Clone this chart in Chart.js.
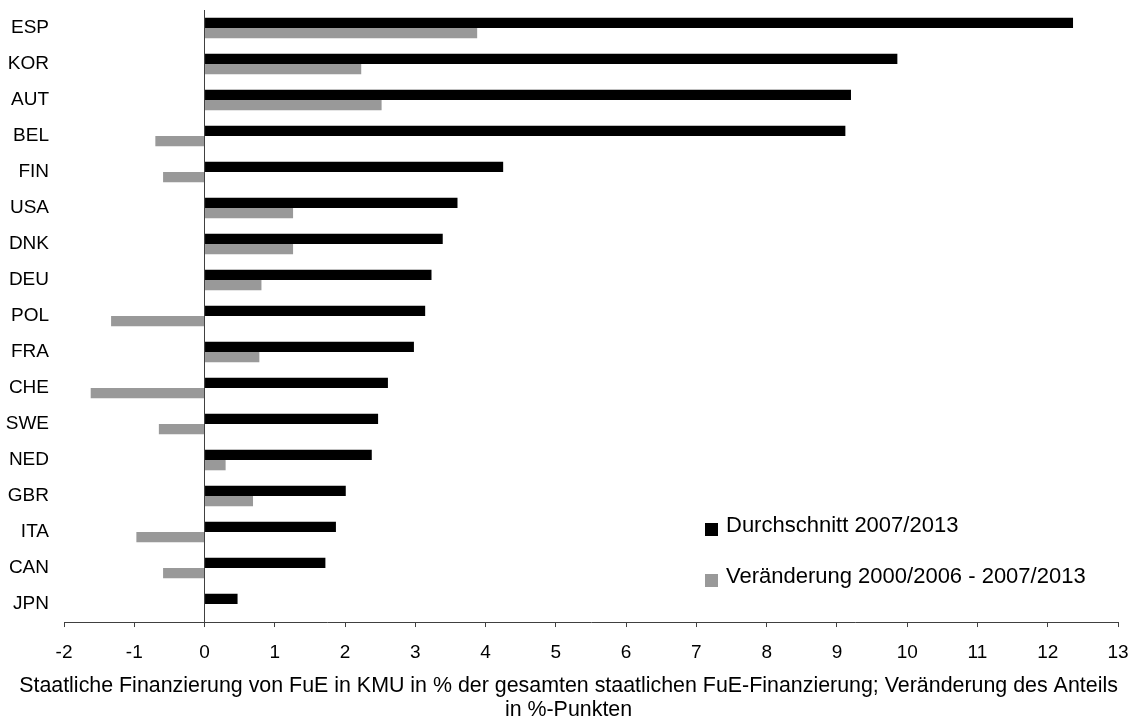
<!DOCTYPE html>
<html>
<head>
<meta charset="utf-8">
<script src="https://cdn.jsdelivr.net/npm/chart.js@4"></script>
<style>
  html, body { margin: 0; padding: 0; background: #fff; }
  #wrap { width: 1137px; height: 724px; }
</style>
</head>
<body>
<div id="wrap"><canvas id="barChart"></canvas></div>
<script>
// data
const countries = ['ESP', 'KOR', 'AUT', 'BEL', 'FIN', 'USA', 'DNK', 'DEU', 'POL', 'FRA', 'CHE', 'SWE', 'NED', 'GBR', 'ITA', 'CAN', 'JPN'];
const average = [12.36, 9.86, 9.20, 9.12, 4.25, 3.60, 3.39, 3.23, 3.14, 2.98, 2.61, 2.47, 2.38, 2.01, 1.87, 1.72, 0.47];
const change = [3.88, 2.23, 2.52, -0.70, -0.59, 1.26, 1.26, 0.81, -1.33, 0.78, -1.62, -0.65, 0.30, 0.69, -0.97, -0.59, 0];
const seriesNames = ['Durchschnitt 2007/2013', 'Veränderung 2000/2006 - 2007/2013'];
const axisTitle = ['Staatliche Finanzierung von FuE in KMU in % der gesamten staatlichen FuE-Finanzierung; Veränderung des Anteils', 'in %-Punkten'];

const FONT = '"Liberation Sans", Arial, sans-serif';

// legend drawn inside the plot, lower right
const innerLegend = {
    id: 'innerLegend',
    afterDraw(chart) {
        const ctx = chart.ctx;
        const area = chart.chartArea;
        const x = area.left + 641;
        const rows = [area.top + 519, area.top + 570];
        ctx.save();
        ctx.font = '22px ' + FONT;
        ctx.textBaseline = 'middle';
        ctx.textAlign = 'left';
        chart.data.datasets.forEach((ds, i) => {
            ctx.fillStyle = ds.backgroundColor;
            ctx.fillRect(x, rows[i] - 6, 13, 13);
            ctx.fillStyle = '#000';
            ctx.fillText(ds.label, x + 21, rows[i] - 3);
        });
        ctx.restore();
    }
};

new Chart(document.getElementById('barChart').getContext('2d'), {
    type: 'bar',
    data: {
        labels: countries,
        datasets: [
            {
                label: seriesNames[0],
                data: average,
                backgroundColor: '#000000',
                categoryPercentage: 0.57,
                barPercentage: 1.0
            },
            {
                label: seriesNames[1],
                data: change,
                backgroundColor: '#999999',
                categoryPercentage: 0.57,
                barPercentage: 1.0
            }
        ]
    },
    options: {
        indexAxis: 'y',
        responsive: true,
        maintainAspectRatio: false,
        animation: false,
        layout: {
            padding: { top: 10, right: 0, left: 0, bottom: 0 }
        },
        plugins: {
            legend: { display: false },
            tooltip: { enabled: false },
            // axis title as a full-width bottom title, wider than the plot
            title: {
                display: true,
                position: 'bottom',
                text: axisTitle,
                color: '#000',
                font: { family: FONT, size: 21.4, weight: 'normal', lineHeight: 1.13 },
                padding: { top: 4, bottom: 2 }
            }
        },
        scales: {
            x: {
                type: 'linear',
                min: -2,
                max: 13,
                afterFit(scale) {
                    scale.height = 47.6;
                    scale.paddingLeft = 0;
                    scale.paddingRight = 19;
                },
                ticks: {
                    stepSize: 1,
                    color: '#000',
                    padding: 14,
                    font: { family: FONT, size: 19 }
                },
                grid: {
                    color: (c) => (c.tick && c.tick.value === 0) ? '#404040' : 'rgba(0,0,0,0)',
                    tickColor: '#404040',
                    tickLength: 5,
                    lineWidth: 1
                },
                border: { display: true, color: '#404040', width: 1 }
            },
            y: {
                afterFit(scale) {
                    scale.width = 64;
                    scale.paddingTop = 0;
                    scale.paddingBottom = 0;
                },
                ticks: {
                    color: '#000',
                    padding: 15,
                    font: { family: FONT, size: 19 }
                },
                grid: { display: false, drawTicks: false },
                border: { display: false }
            }
        }
    },
    plugins: [innerLegend]
});
</script>
</body>
</html>
